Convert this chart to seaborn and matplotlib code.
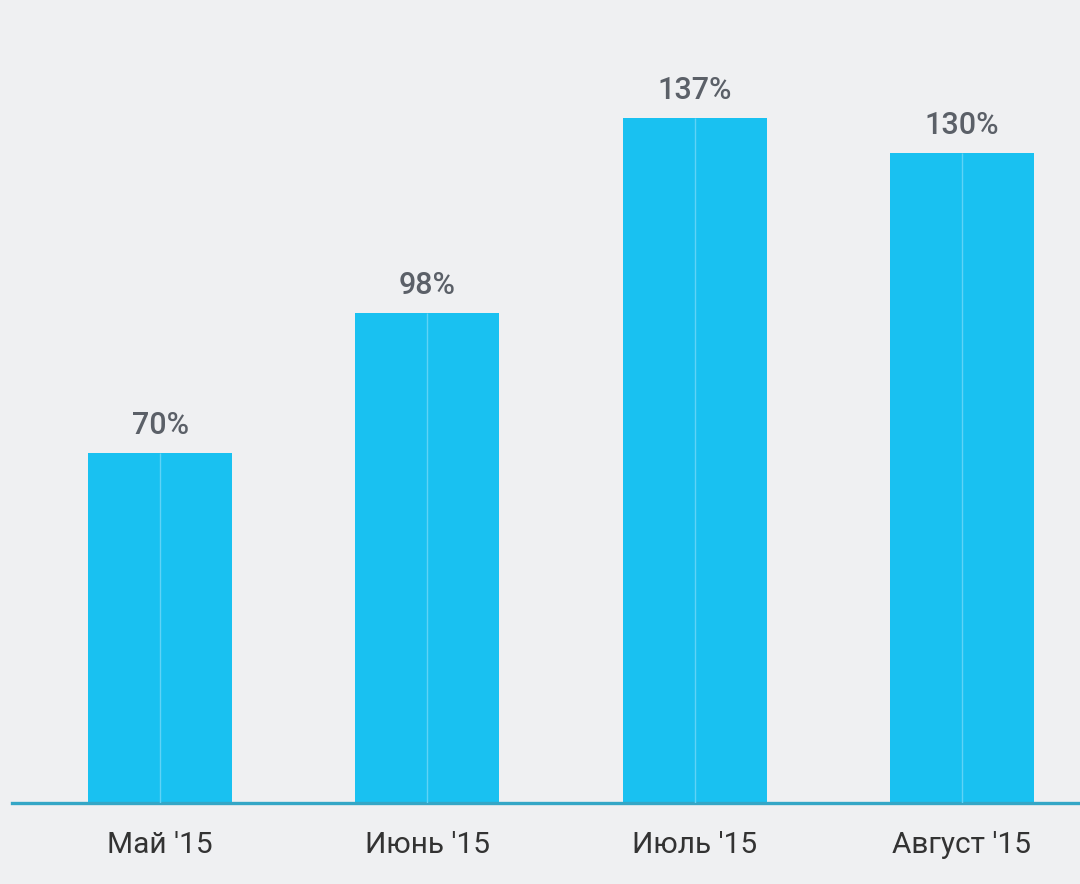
import matplotlib
matplotlib.use("Agg")
import matplotlib.pyplot as plt
import seaborn as sns
import pandas as pd

months = ["Май '15", "Июнь '15", "Июль '15", "Август '15"]
values = [70, 98, 137, 130]
value_labels = ["70%", "98%", "137%", "130%"]

sns.set_theme(style="white")
plt.rcParams['font.family'] = ['Roboto', 'DejaVu Sans']

BG = "#eff0f2"
BAR = "#19c1f1"
df = pd.DataFrame({"month": months, "value": values})

fig = plt.figure(figsize=(10.8, 8.84), dpi=100, facecolor=BG)
ax = fig.add_axes([12/1080, 81/884, 1 - 12/1080, 803/884])
ax.set_facecolor(BG)

sns.barplot(data=df, x="month", y="value", color=BAR, saturation=1,
            width=0.539, ax=ax, edgecolor="none", linewidth=0)

ax.vlines(range(len(values)), 0, values, colors="#5fd3f6", linewidth=1.0, zorder=3)

for i, (v, lab) in enumerate(zip(values, value_labels)):
    ax.annotate(lab, (i, v), xytext=(0, 9), textcoords="offset points",
                ha="center", va="bottom", fontsize=22, fontweight="medium",
                color="#5b6068")

ax.set_xlim(-0.554, 3.442)
ax.set_ylim(0, 160.5)
ax.set_xlabel("")
ax.set_ylabel("")
ax.set_yticks([])
for s in ["top", "right", "left"]:
    ax.spines[s].set_visible(False)
ax.spines["bottom"].set_color("#34a6c6")
ax.spines["bottom"].set_linewidth(2.4)
ax.tick_params(axis="x", length=0, pad=20, labelsize=21.5, labelcolor="#333333")

fig.savefig("out.png", dpi=100, facecolor=BG)
